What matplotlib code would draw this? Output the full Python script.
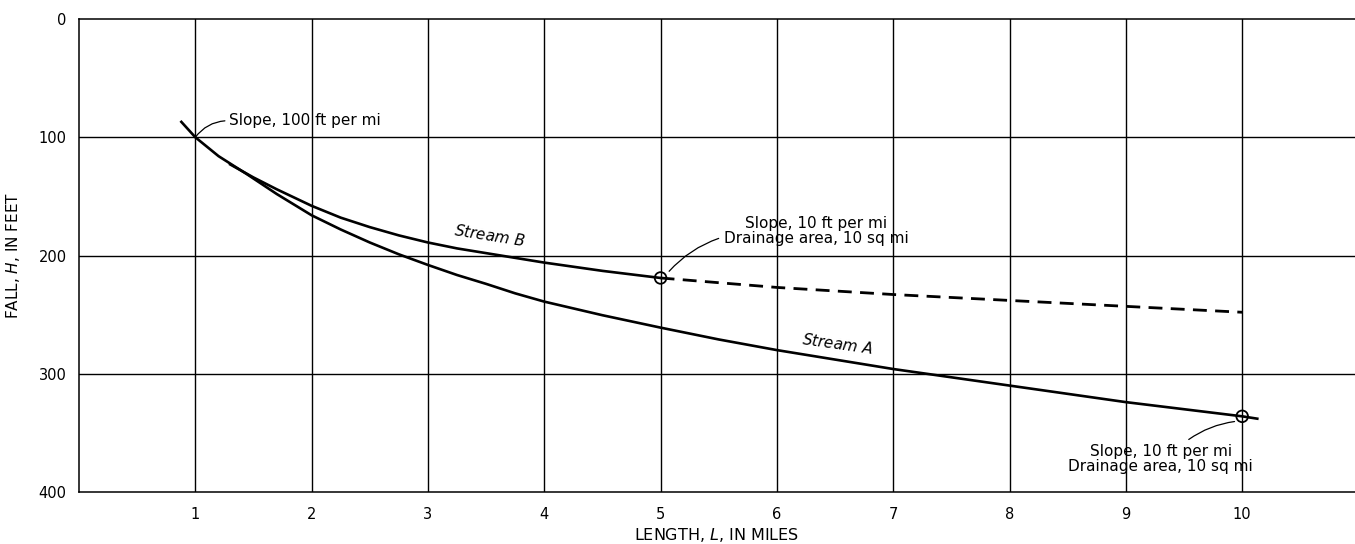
import matplotlib
matplotlib.use("Agg")
import matplotlib.pyplot as plt

# values (fall in feet vs. length in miles)
stream_a_x = [0.88, 1.0, 1.2, 1.44, 1.7, 2.0, 2.25, 2.5, 2.75, 3.0, 3.25, 3.5, 3.75, 4.0, 4.5, 5.0,
              5.5, 6.0, 6.5, 7.0, 7.5, 8.0, 8.5, 9.0, 9.5, 10.0, 10.13]
stream_a_y = [87, 100, 116, 131, 148, 166, 178, 189, 199, 208, 216.5, 224, 232, 239, 250.5, 261,
              271, 280, 288, 296, 303, 310, 317, 324, 330, 336, 338]

stream_b_x = [1.3, 1.5, 1.7, 2.0, 2.25, 2.5, 2.75, 3.0, 3.25, 3.5, 3.75, 4.0, 4.5, 5.0]
stream_b_y = [123, 134, 144, 158, 168, 176, 183, 189, 194, 198, 202, 206, 213, 219]

# dashed extension of stream B
ext_x = [5.0, 6.0, 7.0, 8.0, 9.0, 10.0]
ext_y = [219, 227, 233, 238, 243, 248]

# circled points
mark_x = [5.0, 10.0]
mark_y = [219, 336]

x_ticks = [1, 2, 3, 4, 5, 6, 7, 8, 9, 10]
y_ticks = [0, 100, 200, 300, 400]

plt.rcParams['font.family'] = ['DejaVu Sans']

fig = plt.figure(figsize=(13.55, 5.44), dpi=100)
ax = fig.add_axes([79 / 1355, 52 / 544, 1 - 79 / 1355, 473 / 544])

ax.set_xlim(0, 10.97)
ax.set_ylim(400, 0)

# grid
for xv in x_ticks:
    ax.axvline(xv, color='black', lw=1.0, zorder=1)
for yv in y_ticks[1:-1]:
    ax.axhline(yv, color='black', lw=1.0, zorder=1)

ax.plot(stream_a_x, stream_a_y, color='black', lw=1.9, zorder=3)
ax.plot(stream_b_x, stream_b_y, color='black', lw=1.9, zorder=3)
ax.plot(ext_x, ext_y, color='black', lw=2.0, ls=(0, (5, 3)), zorder=3)
ax.scatter(mark_x, mark_y, s=70, facecolors='none', edgecolors='black', linewidths=1.3, zorder=4)

ax.set_xticks(x_ticks)
ax.set_yticks(y_ticks)
ax.tick_params(length=0, labelsize=10.5, pad=11)
ax.tick_params(axis='y', pad=9)

for s in ['left', 'top', 'bottom']:
    ax.spines[s].set_linewidth(1.1)
ax.spines['right'].set_visible(False)

ax.set_xlabel('LENGTH, $\\mathit{L}$, IN MILES', fontsize=11.5, labelpad=3)
ax.set_ylabel('FALL, $\\mathit{H}$, IN FEET', fontsize=11, labelpad=12)

txt = 11
ax.annotate('Slope, 100 ft per mi', xy=(1.0, 100), xytext=(1.29, 86),
            fontsize=txt, ha='left', va='center',
            arrowprops=dict(arrowstyle='-', lw=0.9, color='black',
                            connectionstyle='arc3,rad=0.25', relpos=(0, 0.5),
                            shrinkA=1, shrinkB=0))

ax.annotate('Slope, 10 ft per mi\nDrainage area, 10 sq mi', xy=(5.05, 216), xytext=(6.34, 179),
            fontsize=txt, ha='center', va='center', linespacing=1.0,
            arrowprops=dict(arrowstyle='-', lw=0.9, color='black',
                            connectionstyle='arc3,rad=0.15', relpos=(0, 0.3),
                            shrinkA=2, shrinkB=3))

ax.annotate('Slope, 10 ft per mi\nDrainage area, 10 sq mi', xy=(9.97, 340), xytext=(9.3, 372),
            fontsize=txt, ha='center', va='center', linespacing=1.0,
            arrowprops=dict(arrowstyle='-', lw=0.9, color='black',
                            connectionstyle='arc3,rad=-0.15', relpos=(0.62, 1.0),
                            shrinkA=2, shrinkB=3))

ax.text(3.53, 183, 'Stream $\\mathit{B}$', fontsize=txt, rotation=-9,
        ha='center', va='center', style='italic')
ax.text(6.52, 275, 'Stream $\\mathit{A}$', fontsize=txt, rotation=-8,
        ha='center', va='center', style='italic')

fig.savefig('out.png', dpi=100, facecolor='white')
